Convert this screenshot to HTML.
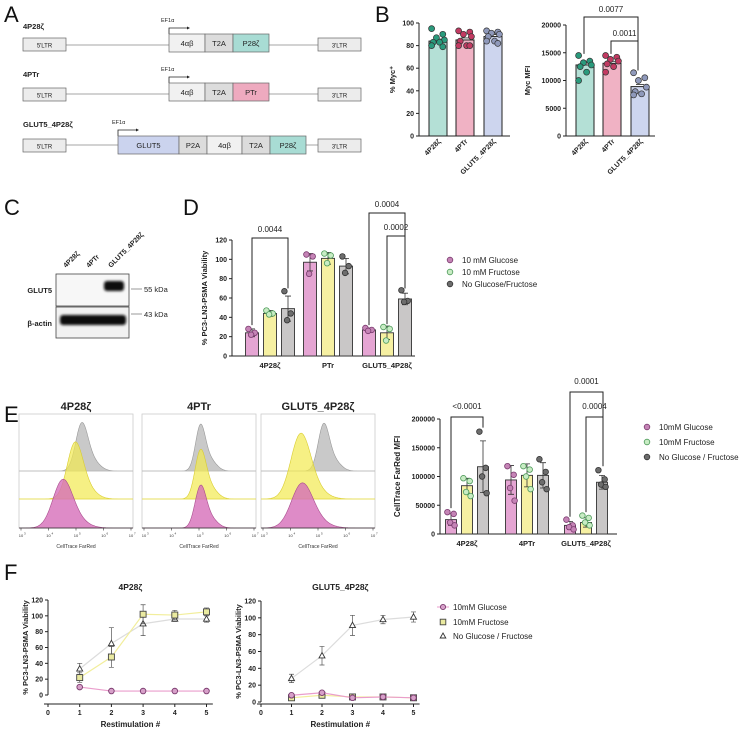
<!DOCTYPE html>
<html><head><meta charset="utf-8"><style>
html,body{margin:0;padding:0;background:#fff;}
svg{display:block;font-family:"Liberation Sans",Arial,sans-serif;font-size:7px;}
.t{font-weight:bold;fill:#222;}
.n{fill:#222;}
.L{font-size:22px;fill:#111;}
</style></head><body>
<svg id="fig" width="754" height="733" viewBox="0 0 754 733" xmlns="http://www.w3.org/2000/svg">
<text class="L" x="4" y="22">A</text>
<text class="L" x="375" y="22">B</text>
<text class="L" x="4" y="215">C</text>
<text class="L" x="183" y="215">D</text>
<text class="L" x="4" y="422">E</text>
<text class="L" x="4" y="580">F</text>

<g id="panelA" font-size="7" fill="#222">
 <g>
  <text x="23" y="29" font-weight="bold" font-size="7.5">4P28ζ</text>
  <line x1="66" y1="45" x2="318" y2="45" stroke="#888" stroke-width="0.8"/>
  <rect x="23" y="38" width="43" height="13" fill="#ececec" stroke="#666" stroke-width="0.7"/><text x="44.5" y="47.5" text-anchor="middle" font-size="6">5'LTR</text>
  <text x="161" y="22" font-size="5.5">EF1α</text>
  <path d="M169 34 V28 H187" fill="none" stroke="#222" stroke-width="0.8"/><path d="M187 26.5 L190 28 L187 29.5Z" fill="#222"/>
  <rect x="169" y="34" width="36" height="18" fill="#f1f1f1" stroke="#666" stroke-width="0.7"/><text x="187" y="46" text-anchor="middle" font-size="7.5">4αβ</text>
  <rect x="205" y="34" width="28" height="18" fill="#dcdcdc" stroke="#666" stroke-width="0.7"/><text x="219" y="46" text-anchor="middle" font-size="7.5">T2A</text>
  <rect x="233" y="34" width="36" height="18" fill="#a8dcd4" stroke="#666" stroke-width="0.7"/><text x="251" y="46" text-anchor="middle" font-size="7.5">P28ζ</text>
  <rect x="318" y="38" width="43" height="13" fill="#ececec" stroke="#666" stroke-width="0.7"/><text x="339.5" y="47.5" text-anchor="middle" font-size="6">3'LTR</text>
 </g>
 <g>
  <text x="23" y="77" font-weight="bold" font-size="7.5">4PTr</text>
  <line x1="66" y1="94" x2="318" y2="94" stroke="#888" stroke-width="0.8"/>
  <rect x="23" y="88" width="43" height="13" fill="#ececec" stroke="#666" stroke-width="0.7"/><text x="44.5" y="97.5" text-anchor="middle" font-size="6">5'LTR</text>
  <text x="161" y="71" font-size="5.5">EF1α</text>
  <path d="M169 83 V77 H187" fill="none" stroke="#222" stroke-width="0.8"/><path d="M187 75.5 L190 77 L187 78.5Z" fill="#222"/>
  <rect x="169" y="83" width="36" height="18" fill="#f1f1f1" stroke="#666" stroke-width="0.7"/><text x="187" y="95" text-anchor="middle" font-size="7.5">4αβ</text>
  <rect x="205" y="83" width="28" height="18" fill="#dcdcdc" stroke="#666" stroke-width="0.7"/><text x="219" y="95" text-anchor="middle" font-size="7.5">T2A</text>
  <rect x="233" y="83" width="36" height="18" fill="#eeaabf" stroke="#666" stroke-width="0.7"/><text x="251" y="95" text-anchor="middle" font-size="7.5">PTr</text>
  <rect x="318" y="88" width="43" height="13" fill="#ececec" stroke="#666" stroke-width="0.7"/><text x="339.5" y="97.5" text-anchor="middle" font-size="6">3'LTR</text>
 </g>
 <g>
  <text x="23" y="127" font-weight="bold" font-size="7.5">GLUT5_4P28ζ</text>
  <line x1="66" y1="145" x2="318" y2="145" stroke="#888" stroke-width="0.8"/>
  <rect x="23" y="139" width="43" height="13" fill="#ececec" stroke="#666" stroke-width="0.7"/><text x="44.5" y="148.5" text-anchor="middle" font-size="6">5'LTR</text>
  <text x="112" y="124" font-size="5.5">EF1α</text>
  <path d="M118 136 V130 H136" fill="none" stroke="#222" stroke-width="0.8"/><path d="M136 128.5 L139 130 L136 131.5Z" fill="#222"/>
  <rect x="118" y="136" width="61" height="18" fill="#cbd3ee" stroke="#666" stroke-width="0.7"/><text x="148.5" y="148" text-anchor="middle" font-size="7.5">GLUT5</text>
  <rect x="179" y="136" width="28" height="18" fill="#dcdcdc" stroke="#666" stroke-width="0.7"/><text x="193" y="148" text-anchor="middle" font-size="7.5">P2A</text>
  <rect x="207" y="136" width="35" height="18" fill="#f1f1f1" stroke="#666" stroke-width="0.7"/><text x="224.5" y="148" text-anchor="middle" font-size="7.5">4αβ</text>
  <rect x="242" y="136" width="28" height="18" fill="#dcdcdc" stroke="#666" stroke-width="0.7"/><text x="256" y="148" text-anchor="middle" font-size="7.5">T2A</text>
  <rect x="270" y="136" width="36" height="18" fill="#a8dcd4" stroke="#666" stroke-width="0.7"/><text x="288" y="148" text-anchor="middle" font-size="7.5">P28ζ</text>
  <rect x="318" y="139" width="43" height="13" fill="#ececec" stroke="#666" stroke-width="0.7"/><text x="339.5" y="148.5" text-anchor="middle" font-size="6">3'LTR</text>
 </g>
</g>

<defs><filter id="blur" x="-20%" y="-50%" width="140%" height="200%"><feGaussianBlur stdDeviation="1.2"/></filter></defs>
<g id="panelC">
 <text class="t" transform="translate(66,268) rotate(-45)">4P28ζ</text>
 <text class="t" transform="translate(89,268) rotate(-45)">4PTr</text>
 <text class="t" transform="translate(111,268) rotate(-45)">GLUT5_4P28ζ</text>
 <rect x="56" y="274" width="73" height="32" fill="#f7f7f7" stroke="#444" stroke-width="0.8"/>
 <rect x="104" y="281" width="20" height="10" rx="3" fill="#111" filter="url(#blur)"/>
 <rect x="56" y="307" width="73" height="31" fill="#f2f2f2" stroke="#444" stroke-width="0.8"/>
 <rect x="60" y="315" width="66" height="10" rx="3" fill="#111" filter="url(#blur)"/>
 <text class="t" x="52" y="293" text-anchor="end" font-size="7.5">GLUT5</text>
 <text class="t" x="52" y="326" text-anchor="end" font-size="7.5">β-actin</text>
 <line x1="131" y1="289" x2="142" y2="289" stroke="#555" stroke-width="0.6"/>
 <line x1="131" y1="314" x2="142" y2="314" stroke="#555" stroke-width="0.6"/>
 <text class="n" x="144" y="292" font-size="7.5">55 kDa</text>
 <text class="n" x="144" y="317" font-size="7.5">43 kDa</text>
</g>

<g id="charts"></g>
</svg>
<script>
// ---------- DATA ----------
const bCats = ['4P28ζ','4PTr','GLUT5_4P28ζ'];
const bMycPctMean = [84, 85, 88];
const bMycPctDots = [[95,90,87,85,83,83,80,79],[93,92,90,88,84,80,80,80],[93,92,91,90,88,84,84,82]];
const bMycMfiMean = [12800, 13100, 8900];
const bMycMfiDots = [[14500,13500,13200,12800,12500,11500,10000],[14500,14200,13800,13500,13000,12500,11500],[11400,10500,10000,8800,8000,7600,7400]];
const bPctTicks = [0,20,40,60,80,100];
const bMfiTicks = [0,5000,10000,15000,20000];

const dGroups = ['4P28ζ','PTr','GLUT5_4P28ζ'];
const dSeries = ['10 mM Glucose','10 mM Fructose','No Glucose/Fructose'];
const dMean = [[24,44,49],[97,101,93],[27,24,59]];
const dErr = [[4,3,13],[9,6,8],[2,7,6]];
const dDots = [[[28,24,22],[47,44,43],[67,44,37]],[[105,103,85],[106,104,96],[103,93,86]],[[29,27,26],[30,28,16],[68,57,56]]];
const dTicks = [0,20,40,60,80,100,120];

const eGroups = ['4P28ζ','4PTr','GLUT5_4P28ζ'];
const eSeries = ['10mM Glucose','10mM Fructose','No Glucose / Fructose'];
const eMean = [[25000,84000,117000],[94000,102000,102000],[15000,20000,90000]];
const eErr = [[10000,13000,45000],[25000,20000,22000],[7000,8000,12000]];
const eDots = [[[38000,35000,20000,15000],[97000,92000,73000,66000],[178000,115000,100000,71000]],
               [[118000,103000,80000,58000],[118000,112000,100000,78000],[130000,108000,90000,78000]],
               [[25000,15000,12000,8000],[32000,28000,20000,15000],[111000,95000,86000,82000]]];
const eTicks = [0,50000,100000,150000,200000];

const hTitles = ['4P28ζ','4PTr','GLUT5_4P28ζ'];
const hPeakLog = [[5.2,4.95,4.5],[5.05,5.05,5.05],[5.2,4.35,4.4]];
const hWidth = [[0.22,0.28,0.35],[0.18,0.2,0.2],[0.2,0.35,0.38]];
const hHeight = [[0.95,1.2,1.0],[0.95,1.1,0.95],[0.95,1.35,0.92]];

const fX = [1,2,3,4,5];
const fSeries = ['10mM Glucose','10mM Fructose','No Glucose / Fructose'];
const fLeftGlu = [10,5,5,5,5];
const fLeftFru = [22,48,102,101,105];
const fLeftFruErr = [6,13,12,6,5];
const fLeftNo = [33,65,90,96,96];
const fLeftNoErr = [7,20,15,3,4];
const fRightGlu = [8,11,5,6,5];
const fRightFru = [5,8,6,6,5];
const fRightFruErr = [1,2,1,1,1];
const fRightNo = [28,55,91,98,101];
const fRightNoErr = [5,11,12,5,6];
const fTicks = [0,20,40,60,80,100,120];

// ---------- HELPERS ----------
const NS='http://www.w3.org/2000/svg';
const root=document.getElementById('charts');
function mk(tag,attrs,parent){const e=document.createElementNS(NS,tag);for(const k in attrs)e.setAttribute(k,attrs[k]);(parent||root).appendChild(e);return e;}
function txt(s,attrs,parent){const e=mk('text',attrs,parent);e.textContent=s;return e;}
function fmt(v){return String(v);}
const jit=[-4,3,-1,4,-3,1,-4,3];

// ---------- PANEL B ----------
function barB(g,x0,xEnd,yTop,y0,max,ticks,means,dots,fills,dotFill,ylab,name){
  const ys=v=>y0-(v/max)*(y0-yTop);
  const cx=[x0+19,x0+46,x0+74];
  mk('line',{x1:x0,y1:yTop,x2:x0,y2:y0,stroke:'#222','stroke-width':1},g);
  mk('line',{x1:x0,y1:y0,x2:xEnd,y2:y0,stroke:'#222','stroke-width':1},g);
  ticks.forEach(t=>{
    mk('line',{x1:x0-3,y1:ys(t),x2:x0,y2:ys(t),stroke:'#222','stroke-width':1},g);
    const tl=txt(fmt(t),{class:'t',x:x0-5,y:ys(t)+2.5,'text-anchor':'end'},g);
    
    
  });
  const yl=txt(ylab,{class:'t',transform:`translate(${x0-(max>1000?36:24)},${(yTop+y0)/2}) rotate(-90)`,'text-anchor':'middle','font-size':7.5},g);
  
  
  means.forEach((m,i)=>{
    const b=mk('rect',{x:cx[i]-9,y:ys(m),width:18,height:y0-ys(m),fill:fills[i],stroke:'#222','stroke-width':1},g);
    
    
    mk('line',{x1:cx[i]-4,y1:ys(m)-2,x2:cx[i]+4,y2:ys(m)-2,stroke:'#222','stroke-width':0.8},g);
    dots[i].forEach((d,j)=>{
      const c=mk('circle',{cx:cx[i]+jit[j]*1.6,cy:ys(d),r:3,fill:dotFill[i],stroke:'#333','stroke-width':0.7},g);
      
      
    });
    const lab=txt(bCats[i],{class:'t',transform:`translate(${cx[i]+3},${y0+6}) rotate(-45)`,'text-anchor':'end'},g);
    
    
  });
  return {ys,cx};
}
const gB1=mk('g',{});


barB(gB1,419,510,23,136,100,bPctTicks,bMycPctMean,bMycPctDots,['#b4e0d6','#f0b2c4','#cdd5ee'],['#2a9a7c','#c23a62','#8f99bb'],'% Myc⁺','pct');
const gB2=mk('g',{});


const B2=barB(gB2,566,655,25,136,20000,bMfiTicks,bMycMfiMean,bMycMfiDots,['#b4e0d6','#f0b2c4','#cdd5ee'],['#2a9a7c','#c23a62','#8f99bb'],'Myc MFI','mfi');
function bracket(g,x1,x2,yTop,y1b,y2b,label,ty){
  mk('path',{d:`M${x1} ${y1b} V${yTop} H${x2} V${y2b}`,fill:'none',stroke:'#222','stroke-width':1},g);
  const t=txt(label,{class:'n',x:(x1+x2)/2,y:ty,'text-anchor':'middle','font-size':8},g);
  
  
}
bracket(gB2,584,638,17,B2.ys(14800),B2.ys(11800),'0.0077',12);
bracket(gB2,611,638,41,B2.ys(14800),B2.ys(11800),'0.0011',36);

// ---------- PANEL D & E ----------
const fillsDE=['#e5a5d3','#f6f0a2','#c9c7c7'];
const dotsDE=['#c584b6','#c8ecc4','#6d6d6d'];
const dotStrokeDE=['#7a3a6e','#4e9a5a','#333'];
function grouped(g,x0,xEnd,yTop,y0,max,ticks,centers,off,bw,means,errs,dots,groups,ylab,ylx,fs){
  const ys=v=>y0-(v/max)*(y0-yTop);
  mk('line',{x1:x0,y1:yTop,x2:x0,y2:y0,stroke:'#222','stroke-width':1},g);
  mk('line',{x1:x0,y1:y0,x2:xEnd,y2:y0,stroke:'#222','stroke-width':1},g);
  ticks.forEach(t=>{
    mk('line',{x1:x0-3,y1:ys(t),x2:x0,y2:ys(t),stroke:'#222','stroke-width':1},g);
    const tl=txt(fmt(t),{class:'t',x:x0-5,y:ys(t)+2.5,'text-anchor':'end'},g);
    
    
  });
  const yl=txt(ylab,{class:'t',transform:`translate(${ylx},${(yTop+y0)/2}) rotate(-90)`,'text-anchor':'middle','font-size':fs},g);
  
  
  groups.forEach((gname,i)=>{
    for(let s=0;s<3;s++){
      const x=centers[i]+off[s];
      const m=means[i][s];
      const b=mk('rect',{x:x-bw/2,y:ys(m),width:bw,height:y0-ys(m),fill:fillsDE[s],stroke:'#333','stroke-width':0.9},g);
      
      
      const e=errs[i][s];
      mk('path',{d:`M${x} ${ys(m-e)} V${ys(m+e)} M${x-3} ${ys(m+e)} H${x+3} M${x-3} ${ys(m-e)} H${x+3}`,stroke:'#333','stroke-width':0.8,fill:'none'},g);
      dots[i][s].forEach((d,j)=>{
        const c=mk('circle',{cx:x+jit[j]*0.9,cy:ys(d),r:2.8,fill:dotsDE[s],stroke:dotStrokeDE[s],'stroke-width':0.8},g);
        
        
      });
    }
    const lab=txt(gname,{class:'t',x:centers[i],y:y0+12,'text-anchor':'middle','font-size':7.5},g);
    
    
  });
  return {ys};
}
function legend(g,x,y,dy,labels){
  labels.forEach((l,s)=>{
    const c=mk('circle',{cx:x,cy:y+s*dy,r:2.8,fill:dotsDE[s],stroke:dotStrokeDE[s],'stroke-width':0.8},g);
    
    
    const t=txt(l,{class:'n',x:x+12,y:y+s*dy+3,'font-size':8},g);
    
    
  });
}
const gD=mk('g',{});


const D=grouped(gD,232,415,240,356,120,dTicks,[270,328,387],[-18,0,18],13,dMean,dErr,dDots,dGroups,'% PC3-LN3-PSMA Viability',207,7.5);
bracket(gD,252,288,238,D.ys(32),D.ys(70),'0.0044',232);
bracket(gD,369,405,213,D.ys(32),D.ys(70),'0.0004',207);
bracket(gD,387,405,236,D.ys(33),D.ys(70),'0.0002',230);
legend(gD,450,260,12,dSeries);

const gE=mk('g',{});


const E=grouped(gE,440,617,419,534,200000,eTicks,[467,527,586],[-16,0,16],11,eMean,eErr,eDots,eGroups,'CellTrace FarRed MFI',400,8);
bracket(gE,451,483,417,E.ys(45000),E.ys(185000),'<0.0001',409);
bracket(gE,570,603,392,E.ys(30000),E.ys(118000),'0.0001',384);
bracket(gE,586,603,417,E.ys(38000),E.ys(118000),'0.0004',409);
legend(gE,647,427,15,eSeries);

// ---------- PANEL E histograms ----------
const hFrames=[19,142,261];
const hW=114, hTop=414, hBase=[471,499,528];
const hFill=['#c9c9c9','rgba(242,234,80,0.7)','rgba(214,110,185,0.8)'];
const hStroke=['#999','#d8cc30','#a84c8c'];
hFrames.forEach((fx,i)=>{
  const g=mk('g',{});
  
  
  const tt=txt(hTitles[i],{class:'t',x:fx+hW/2,y:410,'text-anchor':'middle','font-size':11},g);
  
  
  mk('rect',{x:fx,y:hTop,width:hW,height:hBase[2]-hTop,fill:'#fff',stroke:'#ccc','stroke-width':0.8},g);
  const xs=l=>fx+2+(l-3)/4*(hW-4);
  for(let k=0;k<3;k++){
    const base=hBase[k], H=(k==0?50:45)*hHeight[i][k];
    let d=`M${fx} ${base}`;
    for(let l=3;l<=7.001;l+=0.02){
      const z=(l-hPeakLog[i][k])/hWidth[i][k];
      let v=Math.exp(-0.5*z*z) + 0.25*Math.exp(-0.5*Math.pow((l-hPeakLog[i][k]-0.35)/(hWidth[i][k]*1.3),2));
      v=v/1.1;
      d+=` L${xs(l).toFixed(1)} ${(base-H*v).toFixed(1)}`;
    }
    d+=` L${fx+hW} ${base} Z`;
    const p=mk('path',{d:d,fill:hFill[k],stroke:hStroke[k],'stroke-width':0.6},g);
    
    
    if(k<2) mk('line',{x1:fx,y1:base,x2:fx+hW,y2:base,stroke:k==0?'#bbb':'#e6dc4a','stroke-width':0.8},g);
  }
  mk('line',{x1:fx,y1:hBase[2],x2:fx+hW,y2:hBase[2],stroke:'#333','stroke-width':0.7},g);
  for(let e=3;e<=7;e++){
    mk('line',{x1:xs(e),y1:hBase[2],x2:xs(e),y2:hBase[2]+2.5,stroke:'#333','stroke-width':0.6},g);
    const tl=txt('10',{x:xs(e),y:537,'text-anchor':'middle','font-size':4,fill:'#333'},g);
    
    
    txt(String(e),{x:xs(e)+3,y:534.5,'font-size':3,fill:'#333'},g);
  }
  const xl=txt('CellTrace FarRed',{x:fx+hW/2,y:548,'text-anchor':'middle','font-size':5,fill:'#333'},g);
  
  
});

// ---------- PANEL F ----------
function lineChart(g,x0,xUnit,yTop,y0,title,glu,fru,fruErr,no,noErr){
  const xs=v=>x0+v*xUnit, ys=v=>y0-(v/120)*(y0-yTop);
  const axY=y0+(y0>700?2:9);
  const tt=txt(title,{class:'t',x:xs(2.6),y:590,'text-anchor':'middle','font-size':8.5},g);
  
  
  mk('line',{x1:x0,y1:yTop,x2:x0,y2:y0,stroke:'#222','stroke-width':1},g);
  mk('line',{x1:x0-4,y1:axY,x2:xs(5.2),y2:axY,stroke:'#222','stroke-width':1},g);
  fTicks.forEach(t=>{
    mk('line',{x1:x0-3,y1:ys(t),x2:x0,y2:ys(t),stroke:'#222','stroke-width':1},g);
    const tl=txt(String(t),{class:'t',x:x0-5,y:ys(t)+2.5,'text-anchor':'end'},g);
    
    
  });
  [0].concat(fX).forEach(v=>{
    mk('line',{x1:xs(v),y1:axY,x2:xs(v),y2:axY+3,stroke:'#222','stroke-width':1},g);
    const tl=txt(String(v),{class:'t',x:xs(v),y:axY+11,'text-anchor':'middle'},g);
    
    
  });
  const xl=txt('Restimulation #',{class:'t',x:xs(2.6),y:727,'text-anchor':'middle','font-size':8},g);
  
  
  const yl=txt('% PC3-LN3-PSMA Viability',{class:'t',transform:`translate(${x0-20},${(yTop+y0)/2}) rotate(-90)`,'text-anchor':'middle','font-size':7.5},g);
  
  
  const series=[[no,noErr,'#dcdcdc','tri'],[fru,fruErr,'#f2ee9c','sq'],[glu,null,'#ea9dcc','circ']];
  series.forEach(([vals,err,col,kind])=>{
    const pl=mk('polyline',{points:fX.map((x,i)=>xs(x)+','+ys(vals[i])).join(' '),fill:'none',stroke:col,'stroke-width':1.2},g);
    
    
    fX.forEach((x,i)=>{
      const X=xs(x),Y=ys(vals[i]);
      if(err){const e=err[i];mk('path',{d:`M${X} ${ys(vals[i]-e)} V${ys(vals[i]+e)} M${X-2.5} ${ys(vals[i]+e)} H${X+2.5} M${X-2.5} ${ys(vals[i]-e)} H${X+2.5}`,stroke:'#555','stroke-width':0.7,fill:'none'},g);}
      let m;
      if(kind=='circ') m=mk('circle',{cx:X,cy:Y,r:2.8,fill:'#d7a0c9',stroke:'#7a3a6e','stroke-width':0.9},g);
      else if(kind=='sq') m=mk('rect',{x:X-3,y:Y-3,width:6,height:6,fill:'#eaeaa0',stroke:'#444','stroke-width':0.9},g);
      else m=mk('path',{d:`M${X} ${Y-3.2} L${X+3} ${Y+2.2} L${X-3} ${Y+2.2}Z`,fill:'#fff',stroke:'#333','stroke-width':0.9},g);
      
      
    });
  });
}
const gF1=mk('g',{});


lineChart(gF1,48,31.7,600,695,'4P28ζ',fLeftGlu,fLeftFru,fLeftFruErr,fLeftNo,fLeftNoErr);
const gF2=mk('g',{});


lineChart(gF2,261,30.5,601,702,'GLUT5_4P28ζ',fRightGlu,fRightFru,fRightFruErr,fRightNo,fRightNoErr);
const gFL=mk('g',{});


const fLy=[607,622,636];
fSeries.forEach((l,s)=>{
  const X=443,Y=fLy[s];
  let m;
  if(s==0){mk('line',{x1:X-6,y1:Y,x2:X+6,y2:Y,stroke:'#ea9dcc','stroke-width':1},gFL);m=mk('circle',{cx:X,cy:Y,r:2.6,fill:'#d7a0c9',stroke:'#7a3a6e','stroke-width':0.9},gFL);}
  else if(s==1){m=mk('rect',{x:X-2.8,y:Y-2.8,width:5.6,height:5.6,fill:'#eaeaa0',stroke:'#444','stroke-width':0.9},gFL);}
  else {m=mk('path',{d:`M${X} ${Y-3} L${X+2.8} ${Y+2} L${X-2.8} ${Y+2}Z`,fill:'#fff',stroke:'#333','stroke-width':0.9},gFL);}
  
  
  const t=txt(l,{class:'n',x:453,y:Y+3,'font-size':8},gFL);
  
  
});
</script>
</body></html>
